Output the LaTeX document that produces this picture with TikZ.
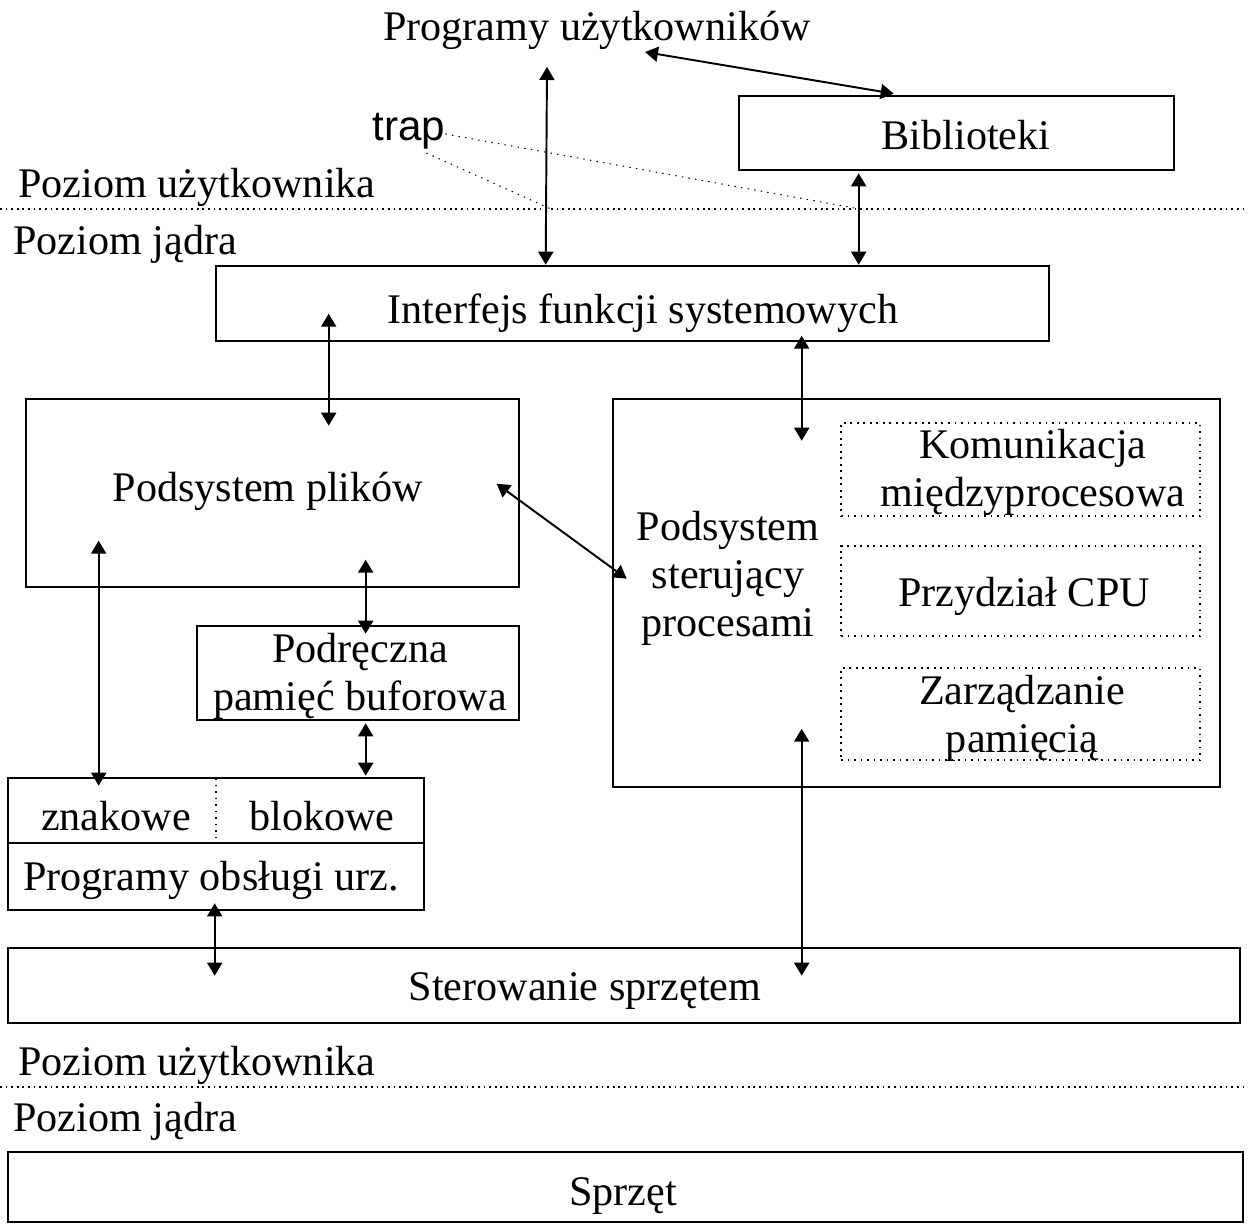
\documentclass[tikz,border=0pt]{standalone}
\usepackage{fontspec}
\setmainfont{Liberation Serif}
\newfontfamily\trapfont{Liberation Sans}
\usetikzlibrary{arrows.meta,fit,calc}

\begin{document}
\begin{tikzpicture}[x=0.02cm, y=-0.02cm,
  box/.style={draw, line width=1.5pt, inner sep=0pt},
  subbox/.style={draw, line width=1.1pt, dash pattern=on 1.1pt off 2.6pt, inner sep=0pt},
  lbl/.style={font=\fontsize{24}{27.2}\selectfont, inner sep=0pt, anchor=base, align=center},
  link/.style={line width=1.1pt,
    {Triangle[length=0.26cm,width=0.3cm]}-{Triangle[length=0.26cm,width=0.3cm]}},
  levelline/.style={line width=0.9pt, dash pattern=on 1pt off 2.2pt},
  trapline/.style={line width=0.6pt, dash pattern=on 0.8pt off 3pt},
]
\useasboundingbox (0,0) rectangle (1248,1225);

% level separators
\coordinate (sepUL) at (0,209);
\coordinate (sepUR) at (1248,209);
\coordinate (sepLL) at (0,1087);
\coordinate (sepLR) at (1248,1087);
\draw[levelline] (sepUL) -- (sepUR);
\draw[levelline] (sepLL) -- (sepLR);

% boxes
\node[box, fit={(739,96)(1174,170)}] (lib) {};
\node[box, fit={(216,266)(1049,341)}] (iface) {};
\node[box, fit={(26,399)(519,587)}] (fs) {};
\node[box, fit={(613,399)(1220,787)}] (proc) {};
\node[subbox, fit={(841,423)(1200,516)}] (ipc) {};
\node[subbox, fit={(841,546)(1200,636)}] (cpu) {};
\node[subbox, fit={(841,668)(1200,760)}] (mem) {};
\node[box, fit={(197,626)(519,720)}] (cache) {};
\node[box, fit={(8,778)(424,910)}] (drv) {};
\draw[line width=1.5pt] (8,843) -- (424,843);
\draw[line width=1.1pt, dash pattern=on 1.1pt off 2.6pt] (216,778) -- (216,843);
\node[box, fit={(8,948)(1240,1023)}] (hwctl) {};
\node[box, fit={(8,1152)(1243,1222)}] (hw) {};

% texts (multi-line labels sit on the baseline of their last line)
\node[lbl] (prog) at (597,40) {Programy użytkowników};
\node[lbl, anchor=base west, font=\trapfont\fontsize{24}{27.2}\selectfont] (trap) at (372,140) {trap};
\node[lbl, anchor=base west] (userA) at (18,197) {Poziom użytkownika};
\node[lbl, anchor=base west] (kernA) at (13,254) {Poziom jądra};
\node[lbl] (libT) at (966,149) {Biblioteki};
\node[lbl] (ifaceT) at (643,323) {Interfejs funkcji systemowych};
\node[lbl] (fsT) at (268,501) {Podsystem plików};
\node[lbl] (procT) at (728,636) {Podsystem\\sterujący\\procesami};
\node[lbl] (ipcT) at (1033,506) {Komunikacja\\międzyprocesowa};
\node[lbl] (cpuT) at (1024,606) {Przydział CPU};
\node[lbl] (memT) at (1022,752) {Zarządzanie\\pamięcią};
\node[lbl] (cacheT) at (360,710) {Podręczna\\pamięć buforowa};
\node[lbl] (chrT) at (116,830) {znakowe};
\node[lbl] (blkT) at (322,830) {blokowe};
\node[lbl] (drvT) at (211,890) {Programy obsługi urz.};
\node[lbl] (hwctlT) at (585,1000) {Sterowanie sprzętem};
\node[lbl, anchor=base west] (userB) at (18,1075) {Poziom użytkownika};
\node[lbl, anchor=base west] (kernB) at (13,1131) {Poziom jądra};
\node[lbl] (hwT) at (623,1205) {Sprzęt};

% connectors
\coordinate (progR) at (645,52);
\coordinate (progD) at (547,67);
\draw[link] (progR) -- ($(lib.north west)+(156,-1)$);
\draw[link] (progD) -- ($(iface.north west)+(331,0)$);
\draw[link] ($(lib.south west)+(121,2)$) -- ($(iface.north west)+(644,0)$);
\draw[link] ($(iface.north west)+(114,49)$) -- ($(fs.north west)+(304,28)$);
\draw[link] ($(iface.north west)+(587,71)$) -- ($(proc.north west)+(190,43)$);
\draw[link] ($(fs.north west)+(472,86)$) -- ($(proc.north west)+(15,181)$);
\draw[link] ($(fs.north west)+(74,143)$) -- ($(drv.north west)+(92,9)$);
\draw[link] ($(fs.north west)+(341,162)$) -- ($(cache.north west)+(170,9)$);
\draw[link] ($(cache.south west)+(170,2)$) -- ($(drv.north west)+(359,-1)$);
\draw[link] ($(drv.south west)+(208,-8)$) -- ($(hwctl.north west)+(208,29)$);
\draw[link] ($(proc.north west)+(190,331)$) -- ($(hwctl.north west)+(795,29)$);

% trap call paths
\coordinate (trapA) at (551,209);
\coordinate (trapB) at (860,209);
\draw[trapline] ($(trap.base east)+(0,-6)$) -- (trapB);
\draw[trapline] ($(trap.base east)+(-19,13)$) -- (trapA);
\end{tikzpicture}
\end{document}
